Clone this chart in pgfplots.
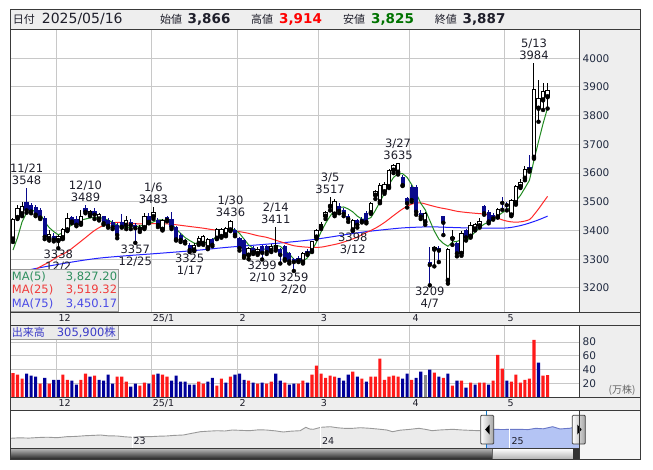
\documentclass[border=0pt]{standalone}
\usepackage{fontspec}
\setmainfont{DejaVu Sans}
\newfontfamily\jp{Noto Sans CJK JP}
\usepackage{pgfplots}
\usepackage{pgfplotstable}
\pgfplotsset{compat=1.18}

\definecolor{framec}{HTML}{3A3A3A}
\definecolor{panel}{HTML}{EEEEEE}
\definecolor{gridc}{HTML}{C8C8C8}
\definecolor{navyc}{HTML}{0A0A8C}
\definecolor{volred}{HTML}{FF1A1A}
\definecolor{volblue}{HTML}{000099}
\definecolor{ma5}{HTML}{228B22}
\definecolor{ma25}{HTML}{FF2A2A}
\definecolor{ma75}{HTML}{2222FF}
\definecolor{txt}{HTML}{1E1E2A}
\definecolor{tick}{HTML}{202A40}
\definecolor{selfill}{HTML}{B4C4F4}
\definecolor{selline}{HTML}{6A78C8}
\definecolor{navfill}{HTML}{EBEBEB}
\definecolor{navline}{HTML}{999999}
\definecolor{volc}{HTML}{3C3CC8}
\definecolor{ma5t}{HTML}{2F8F5F}
\definecolor{ma25t}{HTML}{F03C3C}
\definecolor{ma75t}{HTML}{4A4AE6}

\newcommand\fs[1]{\fontsize{#1}{#1}\selectfont}

% up candles: index, low, open, close, high
\pgfplotstableread{
X L B T H
0 3360 3370 3440 3445
1 3440 3445 3478 3490
2 3450 3458 3484 3500
8 3365 3372 3385 3400
10 3338 3365 3378 3385
11 3370 3375 3402 3410
12 3398 3402 3441 3460
15 3420 3425 3448 3470
17 3450 3455 3465 3470
19 3435 3440 3457 3462
25 3405 3418 3436 3452
28 3395 3405 3412 3418
29 3405 3410 3448 3460
31 3440 3448 3462 3483
33 3400 3404 3436 3440
40 3328 3332 3349 3355
41 3350 3355 3373 3380
42 3350 3355 3379 3385
43 3335 3340 3369 3375
45 3370 3373 3402 3408
46 3375 3379 3404 3410
47 3380 3385 3406 3412
48 3398 3402 3430 3436
52 3300 3314 3338 3342
54 3315 3320 3335 3342
57 3325 3330 3345 3352
58 3330 3338 3349 3411
64 3285 3290 3320 3325
66 3325 3330 3361 3365
67 3370 3377 3400 3405
68 3405 3411 3422 3430
69 3440 3450 3462 3468
70 3470 3484 3488 3517
71 3450 3457 3500 3510
75 3398 3402 3434 3440
79 3458 3462 3494 3500
80 3510 3523 3535 3540
81 3495 3500 3558 3565
82 3528 3535 3562 3570
83 3548 3553 3610 3615
84 3600 3610 3625 3630
85 3595 3603 3634 3635
91 3420 3430 3458 3465
93 3275 3335 3340 3345
96 3215 3226 3333 3340
97 3350 3372 3376 3400
99 3312 3320 3390 3398
101 3375 3380 3419 3430
102 3400 3405 3420 3425
103 3410 3416 3431 3445
107 3445 3448 3474 3480
110 3450 3454 3504 3510
111 3490 3497 3553 3560
112 3548 3553 3568 3580
113 3575 3582 3611 3623
115 3650 3655 3892 3984
116 3779 3826 3860 3926
117 3820 3855 3886 3913
118 3825 3866 3887 3914
}\upc

% down candles: index, low, close, open, high
\pgfplotstableread{
X L B T H
3 3462 3470 3500 3548
4 3460 3466 3488 3495
5 3450 3455 3482 3488
6 3440 3445 3470 3478
7 3370 3378 3445 3450
9 3362 3368 3380 3390
13 3425 3431 3446 3452
14 3415 3420 3440 3450
16 3460 3465 3477 3489
18 3440 3455 3468 3480
20 3420 3425 3450 3452
21 3410 3416 3438 3442
22 3405 3411 3430 3435
23 3373 3384 3420 3425
24 3410 3413 3430 3457
26 3405 3418 3430 3440
27 3357 3408 3418 3425
30 3425 3430 3452 3460
32 3412 3419 3436 3445
34 3432 3437 3446 3452
35 3405 3411 3440 3465
36 3365 3369 3411 3415
37 3360 3367 3384 3390
38 3355 3361 3367 3372
39 3325 3332 3349 3355
44 3345 3350 3369 3375
49 3380 3385 3402 3410
50 3330 3338 3373 3378
51 3305 3311 3367 3370
53 3318 3325 3340 3345
55 3299 3322 3345 3350
56 3318 3325 3345 3348
59 3285 3315 3335 3340
60 3295 3300 3345 3350
61 3285 3292 3320 3325
62 3259 3290 3300 3305
63 3290 3295 3305 3310
65 3315 3320 3328 3335
72 3460 3468 3485 3495
73 3450 3458 3470 3478
74 3430 3440 3450 3458
76 3410 3420 3436 3440
77 3428 3432 3440 3448
78 3425 3430 3462 3468
86 3555 3558 3588 3592
87 3480 3495 3512 3515
88 3500 3506 3553 3560
89 3455 3465 3550 3560
90 3440 3448 3460 3470
92 3209 3280 3290 3343
94 3290 3330 3340 3345
95 3384 3427 3450 3452
98 3310 3320 3355 3360
100 3365 3376 3402 3405
104 3455 3460 3485 3490
105 3425 3431 3466 3470
106 3438 3442 3455 3460
108 3472 3496 3500 3516
109 3470 3488 3492 3500
114 3605 3612 3620 3663
}\dnc

% navigator history (years after 2022, height)
\pgfplotstableread{
yr v
0.35 9.7
0.40 10.2
0.45 9.9
0.50 10.5
0.55 10.8
0.60 10.3
0.65 11.3
0.70 11.6
0.75 12.3
0.80 12.7
0.83 13.0
0.87 12.2
0.92 12.0
0.96 11.2
1.00 10.7
1.05 11.5
1.09 11.3
1.14 11.8
1.18 12.0
1.22 12.6
1.27 13.0
1.31 14.5
1.36 16.3
1.40 16.8
1.45 17.3
1.49 17.0
1.53 18.0
1.58 17.6
1.62 17.3
1.67 18.2
1.71 18.0
1.76 17.1
1.80 16.0
1.84 16.8
1.89 17.3
1.92 20.7
1.94 19.0
1.96 18.7
2.00 20.7
2.05 21.3
2.09 20.2
2.13 19.6
2.17 19.7
2.21 20.3
2.26 19.7
2.30 19.0
2.35 18.0
2.38 16.3
2.42 17.8
2.47 18.6
2.52 19.7
2.56 18.5
2.59 17.3
2.63 18.0
2.70 18.7
2.75 18.0
2.80 17.6
2.84 17.3
2.88 18.3
2.91 18.7
2.96 18.5
3.00 18.6
3.05 18.7
3.10 18.4
3.14 19.7
3.18 19.2
3.23 21.3
3.27 19.0
3.30 19.5
3.32 19.7
3.35 21.0
3.37 20.7
}\nav

\pgfplotsset{
  chartax/.style={scale only axis, width=569pt, xmin=-0.662, xmax=124.94,
    axis line style={draw=none}, major tick length=0pt,
    xtick={9.5,30.5,49.5,67.5,87.5,108.5}, xticklabels={},
    grid=major, grid style={gridc, line width=1pt},
    yticklabel pos=right,
    yticklabel style={anchor=west, inner sep=0pt, xshift=3.5pt, font=\fs{10.5}, text=tick},
    /pgf/number format/assume math mode=true, /pgf/number format/1000 sep={}},
  wick/.style={only marks, mark=none, error bars/.cd, y dir=plus, y explicit,
    error mark=none, error bar style={#1, line width=1pt}},
  body/.style 2 args={only marks, mark=none, error bars/.cd, y dir=plus, y explicit,
    error mark=none, error bar style={#1, line width=#2}},
}

\newcommand\hilab[3]{%
  \node[anchor=base, inner sep=0pt, text=txt, font=\fs{11.5}, yshift=3.5pt] at (axis cs:#1,#2) {#2};
  \node[anchor=base, inner sep=0pt, text=txt, font=\fs{11.5}, yshift=15.5pt] at (axis cs:#1,#2) {#3};}
\newcommand\lolab[3]{%
  \node[anchor=base, inner sep=0pt, text=txt, font=\fs{11.5}, yshift=-10.5pt] at (axis cs:#1,#2) {#2};
  \node[anchor=base, inner sep=0pt, text=txt, font=\fs{11.5}, yshift=-22.5pt] at (axis cs:#1,#2) {#3};}

\begin{document}
\begin{tikzpicture}
\path[use as bounding box] (0pt,0pt) rectangle (653pt,-470pt);

% panels
\begin{scope}[x=1pt, y=-1pt]
\fill[panel] (10,10) rectangle (640,30);
\fill[white] (10,30) rectangle (579,312);
\fill[panel] (579,30) rectangle (640,312);
\fill[panel] (10,312) rectangle (640,325);
\fill[white] (10,325) rectangle (579,397);
\fill[panel] (579,325) rectangle (640,397);
\fill[panel] (10,397) rectangle (640,410);
\fill[white] (10,410) rectangle (579,448);
\fill[black!4] (579,410) rectangle (640,459);
\shade[top color=black!25, bottom color=black!85] (10,448) rectangle (579,459);
\end{scope}

% price chart
\begin{axis}[chartax, at={(10pt,-30pt)}, anchor=north west, height=282pt,
  ymin=3116, ymax=4098.6, ytick={3200,3300,...,4000}]
% MA75
\addplot[ma75, line width=1pt, mark=none, smooth] coordinates {
(0,3250) (4.5,3266) (10,3282) (15,3295) (19.2,3304) (25,3312) (30.2,3318)
(36,3325) (41.3,3332) (45.7,3339) (50,3345) (55,3351) (60,3358) (65.6,3367)
(70,3377) (74,3387) (78,3396) (82,3403) (86,3409) (90,3412) (92,3413)
(96,3411) (100,3409) (104,3408) (109,3409) (112,3417) (114,3426) (116,3437) (118,3450)};
% MA25
\addplot[ma25, line width=1pt, mark=none, smooth] coordinates {
(0,3200) (3,3240) (5.5,3269) (8,3290) (10,3310) (12,3326) (14,3350) (16,3375)
(18,3400) (20,3418) (22,3427) (24,3428) (26,3425) (28,3423) (30,3424) (32,3424)
(34,3423) (36,3420) (38,3416) (40,3412) (42,3408) (44,3403) (46,3400) (48,3400)
(50,3396) (52,3390) (54,3382) (56,3376) (58,3366) (60,3356) (62,3347) (64,3343)
(66,3341) (68,3342) (70,3348) (72,3355) (74,3365) (76,3377) (78,3393) (80,3408)
(82,3428) (84,3452) (86,3475) (88,3492) (90,3496) (92,3488) (94,3480) (96,3474)
(98,3467) (100,3463) (102,3460) (104,3457) (106,3450) (108,3437) (110,3430)
(112,3430) (114,3438) (115,3455) (116,3475) (117,3497) (118,3519)};
% MA5
\addplot[ma5, line width=1pt, mark=none] coordinates {
(0,3332) (1,3375) (2,3430) (3,3462) (4,3468) (5,3470) (6,3460) (7,3430) (8,3410)
(9,3396) (10,3385) (11,3392) (12,3408) (13,3420) (14,3431) (15,3436) (16,3440)
(17,3444) (18,3446) (19,3446) (20,3442) (21,3436) (22,3428) (23,3419) (24,3412)
(25,3410) (26,3412) (27,3413) (28,3416) (29,3419) (30,3424) (31,3430) (32,3437)
(33,3437) (34,3434) (35,3425) (36,3405) (37,3390) (38,3375) (39,3365) (40,3356)
(41,3353) (42,3356) (43,3361) (44,3368) (45,3378) (46,3386) (47,3396) (48,3402)
(49,3403) (50,3390) (51,3370) (52,3350) (53,3338) (54,3332) (55,3333) (56,3337)
(57,3343) (58,3348) (59,3345) (60,3330) (61,3318) (62,3300) (63,3290) (64,3292)
(65,3305) (66,3330) (67,3360) (68,3395) (69,3425) (70,3450) (71,3472) (72,3480)
(73,3482) (74,3475) (75,3465) (76,3450) (77,3440) (78,3438) (79,3445) (80,3470)
(81,3500) (82,3530) (83,3560) (84,3585) (85,3598) (86,3598) (87,3585) (88,3560)
(89,3530) (90,3495) (91,3472) (92,3435) (93,3398) (94,3370) (95,3355) (96,3345)
(97,3360) (98,3362) (99,3368) (100,3362) (101,3378) (102,3395) (103,3410)
(104,3422) (105,3430) (106,3437) (107,3450) (108,3462) (109,3472) (110,3484)
(111,3503) (112,3522) (113,3548) (114,3575) (115,3645) (116,3710) (117,3772) (118,3827)};
% down candles
\addplot[wick=navyc] table[x=X, y=L, y error expr=\thisrow{H}-\thisrow{L}] {\dnc};
\addplot[body={navyc}{4.2pt}] table[x=X, y=B, y error expr=\thisrow{T}-\thisrow{B}] {\dnc};
% up candles
\addplot[wick=black] table[x=X, y=L, y error expr=\thisrow{H}-\thisrow{L}] {\upc};
\addplot[body={black}{4.4pt}] table[x=X, y expr=\thisrow{B}-1.7, y error expr=\thisrow{T}-\thisrow{B}+3.4] {\upc};
\addplot[body={white}{2.4pt}] table[x=X, y expr=\thisrow{B}+1.8, y error expr={max(0,\thisrow{T}-\thisrow{B}-3.6)}] {\upc};
\hilab{3}{3548}{11/21}
\hilab{16}{3489}{12/10}
\hilab{31}{3483}{1/6}
\hilab{48}{3436}{1/30}
\hilab{58}{3411}{2/14}
\hilab{70}{3517}{3/5}
\hilab{85}{3635}{3/27}
\hilab{115}{3984}{5/13}
\lolab{10}{3338}{12/2}
\lolab{27}{3357}{12/25}
\lolab{39}{3325}{1/17}
\lolab{55}{3299}{2/10}
\lolab{62}{3259}{2/20}
\lolab{75}{3398}{3/12}
\lolab{92}{3209}{4/7}
\end{axis}

% volume chart
\begin{axis}[chartax, at={(10pt,-325pt)}, anchor=north west, height=72pt,
  ymin=0, ymax=105, ytick={20,40,60,80}]
\addplot[ybar, bar width=0.68, bar shift=0pt, fill=volred, draw=none] coordinates {
(0,35) (1,32.5) (2,26.7) (6,19.4) (8,19.4) (11,32.5) (12,25) (15,25) (16,34) (18,31)
(23,29.6) (24,29.6) (25,22.3) (28,16.5) (29,20.9) (31,32.5) (33,32.5) (34,29.6)
(41,22.3) (42,19.4) (45,16.5) (46,26.7) (48,29.6) (52,23.8) (54,19.4) (56,19.4)
(57,22.3) (60,20.9) (63,19.4) (64,23.8) (66,32.5) (67,45.6) (68,34) (69,28) (70,31)
(71,29.6) (75,36.9) (77,26.7) (79,29.6) (80,29.6) (81,55.8) (82,25) (83,29.6) (84,31)
(85,29.6) (88,25) (93,35.4) (95,28) (97,16.5) (99,23.8) (101,20.9) (103,20.9)
(104,20.9) (106,23.8) (107,61.6) (108,41.2) (110,22.3) (111,32.5) (112,20.9) (113,25)
(114,26.7) (115,83.4) (117,31) (118,32)};
\addplot[ybar, bar width=0.68, bar shift=0pt, fill=volblue, draw=none] coordinates {
(3,34) (4,31) (5,29.6) (7,28) (9,25) (10,25) (13,23.8) (14,18) (17,29.6) (19,25)
(20,23.8) (21,32.5) (22,19.4) (26,15) (27,19.4) (30,19.4) (32,34) (35,23.8) (36,31)
(37,22.3) (38,22.3) (39,18) (40,18) (43,22.3) (44,28) (47,20.9) (49,32.5) (50,34)
(51,25) (53,20.9) (55,20.9) (58,34) (59,23.8) (61,18) (62,19.4) (65,20.9) (72,28)
(73,23.8) (74,32.5) (76,29.6) (78,22.3) (86,26.7) (87,34) (89,28) (90,36.9) (92,39.8)
(94,29.6) (96,34) (98,23.8) (100,13.6) (102,18) (105,18) (109,23.8) (116,50)};
\addplot[ybar, bar width=0.68, bar shift=0pt, fill=black!45, draw=none] coordinates {(91,32.5)};
\end{axis}

% navigator
\begin{axis}[at={(10pt,-410pt)}, anchor=north west, scale only axis, width=569pt, height=38pt,
  xmin=0.35, xmax=3.37, ymin=0, ymax=38, axis lines=none, xtick=\empty, ytick=\empty]
\addplot[draw=none, fill=navfill] table[x=yr, y=v] {\nav} \closedcycle;
\addplot[draw=none, fill=selfill, restrict x to domain=2.88:3.5] table[x=yr, y=v] {\nav} \closedcycle;
\addplot[navline, line width=0.9pt, restrict x to domain=0:2.88] table[x=yr, y=v] {\nav};
\addplot[selline, line width=0.9pt, restrict x to domain=2.88:3.5] table[x=yr, y=v] {\nav};
\draw[white, line width=1pt] (axis cs:1,0) -- (axis cs:1,38);
\draw[white, line width=1pt] (axis cs:2,0) -- (axis cs:2,38);
\draw[white, line width=1pt] (axis cs:3,0) -- (axis cs:3,38);
\end{axis}

\begin{scope}[x=1pt, y=-1pt]
% navigator decorations
\draw[cyan!60!blue, line width=0.8pt] (486.6,410) -- (486.6,448);
\draw[cyan!60!blue, line width=0.8pt] (579,410) -- (579,448);
\foreach \hx in {480.7,572.3} {
  \shade[left color=white, right color=black!35, rounded corners=1pt] (\hx,415.3) rectangle ++(13,28.7);
  \draw[black!75, rounded corners=1pt, line width=0.8pt] (\hx,415.3) rectangle ++(13,28.7);
}
\fill[black] (489.6,424.5) -- (485.2,429.5) -- (489.6,434.5) -- cycle;
\fill[black] (577.3,424.5) -- (581.7,429.5) -- (577.3,434.5) -- cycle;
\shade[top color=white, bottom color=black!30] (492.3,448.5) rectangle (573.3,459);
\draw[black!60] (492.3,448.5) rectangle (573.3,459);
\fill[black!80] (573.3,448.5) rectangle (579,459);
\node[anchor=base west, inner sep=0pt, font=\fs{9.5}, text=txt] at (133.5,444) {23};
\node[anchor=base west, inner sep=0pt, font=\fs{9.5}, text=txt] at (322,444) {24};
\node[anchor=base west, inner sep=0pt, font=\fs{9.5}, text=txt] at (511.5,444) {25};

% month labels in strips
\foreach \mx/\ml in {58.3/12, 152.7/25\slash 1, 239.3/2, 320.7/3, 412.3/4, 507.3/5} {
  \node[anchor=base west, inner sep=0pt, font=\fs{9.5}, text=txt] at (\mx,321) {\ml};
  \node[anchor=base west, inner sep=0pt, font=\fs{9.5}, text=txt] at (\mx,406.7) {\ml};
}
\node[anchor=base west, inner sep=0pt, font=\jp\fs{10}, text=black!60] at (608.5,393.5) {(万株)};

% MA legend box
\fill[black!8] (10.5,269) rectangle (118.3,311.7);
\draw[black!40, line width=0.8pt] (10.5,269) rectangle (118.3,311.7);
\node[anchor=base west, inner sep=0pt, font=\fs{11.5}, text=ma5t] at (11.7,280.3) {MA(5)};
\node[anchor=base east, inner sep=0pt, font=\fs{11.5}, text=ma5t] at (117.3,280.3) {3,827.20};
\node[anchor=base west, inner sep=0pt, font=\fs{11.5}, text=ma25t] at (11.7,293.8) {MA(25)};
\node[anchor=base east, inner sep=0pt, font=\fs{11.5}, text=ma25t] at (117.3,293.8) {3,519.32};
\node[anchor=base west, inner sep=0pt, font=\fs{11.5}, text=ma75t] at (11.7,307.5) {MA(75)};
\node[anchor=base east, inner sep=0pt, font=\fs{11.5}, text=ma75t] at (117.3,307.5) {3,450.17};

% volume label box
\fill[black!8] (10.5,325) rectangle (118.3,339.3);
\draw[black!40, line width=0.8pt] (10.5,325) rectangle (118.3,339.3);
\node[anchor=base west, inner sep=0pt, font=\jp\fs{11}, text=volc] at (11.7,336) {出来高};
\node[anchor=base west, inner sep=0pt, font=\fs{11.5}, text=volc] at (56.7,336) {305,900{\jp 株}};

% header
\node[anchor=base west, inner sep=0pt, font=\jp\fs{11}, text=txt] at (12.7,24) {日付};
\node[anchor=base west, inner sep=0pt, font=\fs{14}, text=txt] at (41.7,24) {2025/05/16};
\node[anchor=base west, inner sep=0pt, font=\jp\fs{11}, text=txt] at (160,24) {始値};
\node[anchor=base west, inner sep=0pt, font=\bfseries\fs{13.5}, text=txt] at (187.5,24) {3,866};
\node[anchor=base west, inner sep=0pt, font=\jp\fs{11}, text=txt] at (251,24) {高値};
\node[anchor=base west, inner sep=0pt, font=\bfseries\fs{13.5}, text=red] at (279,24) {3,914};
\node[anchor=base west, inner sep=0pt, font=\jp\fs{11}, text=txt] at (343,24) {安値};
\node[anchor=base west, inner sep=0pt, font=\bfseries\fs{13.5}, text=green!45!black] at (371,24) {3,825};
\node[anchor=base west, inner sep=0pt, font=\jp\fs{11}, text=txt] at (434.6,24) {終値};
\node[anchor=base west, inner sep=0pt, font=\bfseries\fs{13.5}, text=txt] at (462.5,24) {3,887};

% frames
\begin{scope}[framec, line width=1pt]
\draw (10,10) rectangle (640,459);
\draw (10,30) -- (640,30);
\draw (10,312) -- (640,312);
\draw (10,325) -- (640,325);
\draw (10,397) -- (640,397);
\draw (10,410) -- (640,410);
\draw (10,448) -- (579,448);
\draw (579,30) -- (579,312);
\draw (579,325) -- (579,397);
\draw (579,410) -- (579,459);
\end{scope}
\end{scope}
\end{tikzpicture}
\end{document}
